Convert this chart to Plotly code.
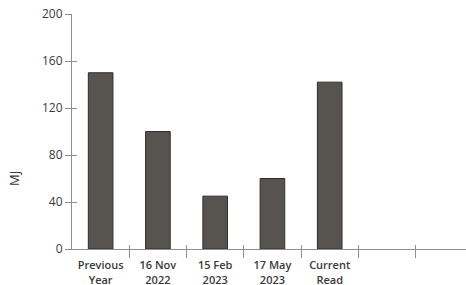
import plotly.graph_objects as go

# Data
categories = ["Previous<br>Year", "16 Nov<br>2022", "15 Feb<br>2023", "17 May<br>2023", "Current<br>Read"]
values = [150, 100, 45, 60, 142]
y_ticks = [0, 40, 80, 120, 160, 200]
y_title = "MJ"

positions = list(range(len(categories)))
n_slots = 7
boundaries = [i + 0.5 for i in range(n_slots - 1)]
x_range = [-0.5, 6.38]

AX = "#8f8f8f"
TXT = "#3a3a3a"
FONT = "Open Sans"

fig = go.Figure()
fig.add_trace(go.Bar(
    x=positions, y=values, width=0.43,
    marker=dict(color="#57544f", line=dict(color="#2e2e2e", width=1)),
    hoverinfo="skip", showlegend=False,
))
# carriers for tick-mark-only overlay axes
fig.add_trace(go.Scatter(x=[], y=[], xaxis="x2", yaxis="y2", showlegend=False))
fig.add_trace(go.Scatter(x=[], y=[], xaxis="x3", yaxis="y2", showlegend=False))

fig.update_layout(
    width=466, height=285,
    margin=dict(l=72, r=0, t=14, b=36),
    paper_bgcolor="white", plot_bgcolor="white",
    font=dict(family=FONT, color=TXT, size=11),
    xaxis=dict(
        range=x_range, tickmode="array", tickvals=positions, ticktext=categories,
        ticks="", showline=True, linecolor=AX, linewidth=1, showgrid=False, zeroline=False,
        tickfont=dict(family=FONT, size=11, color=TXT, weight=600),
        ticklabelstandoff=6, anchor="y", automargin=False,
    ),
    xaxis2=dict(
        range=x_range, overlaying="x", anchor="y", side="bottom",
        tickmode="array", tickvals=boundaries, ticks="outside", ticklen=8,
        tickcolor=AX, tickwidth=1, showticklabels=False, showline=False,
        showgrid=False, zeroline=False, automargin=False,
    ),
    xaxis3=dict(
        range=x_range, overlaying="x", anchor="y", side="bottom",
        tickmode="array", tickvals=boundaries, ticks="inside", ticklen=4,
        tickcolor=AX, tickwidth=1, showticklabels=False, showline=False,
        showgrid=False, zeroline=False, automargin=False,
    ),
    yaxis=dict(
        range=[0, 200], tickmode="array", tickvals=y_ticks,
        ticks="outside", ticklen=6, tickcolor=AX, tickwidth=1,
        showline=True, linecolor=AX, linewidth=1, showgrid=False, zeroline=False,
        tickfont=dict(family=FONT, size=12, color=TXT), anchor="x", automargin=False,
    ),
    yaxis2=dict(
        range=[0, 200], overlaying="y", anchor="x", side="left",
        tickmode="array", tickvals=y_ticks, ticks="inside", ticklen=5,
        tickcolor=AX, tickwidth=1, showticklabels=False, showline=False,
        showgrid=False, zeroline=False, automargin=False,
    ),
    annotations=[dict(
        text=y_title, xref="paper", yref="paper", x=-0.147, y=0.298,
        xanchor="center", yanchor="middle", textangle=-90, showarrow=False,
        font=dict(family=FONT, size=13, color=TXT),
    )],
)

fig.write_html("out.html", config={"displayModeBar": False},
               post_script="document.body.style.margin='0';")
